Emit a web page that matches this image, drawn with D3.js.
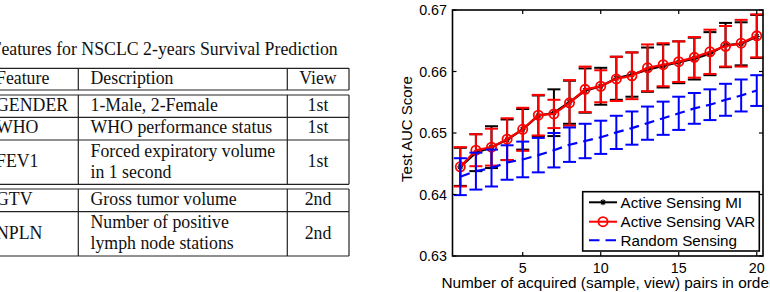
<!DOCTYPE html>
<html><head><meta charset="utf-8">
<script src="https://cdn.jsdelivr.net/npm/d3@7"></script>
<style>html,body{margin:0;padding:0;background:#fff;overflow:hidden}</style>
</head><body>
<svg id="c" width="770" height="292"></svg>
<script>
// ---- Table data ----
const tableTitle = "Features for NSCLC 2-years Survival Prediction";
const tableHeader = ["Feature", "Description", "View"];
const features = ["GENDER", "WHO", "FEV1", "GTV", "NPLN"];
const descriptions = [["1-Male, 2-Female"], ["WHO performance status"], ["Forced expiratory volume", "in 1 second"], ["Gross tumor volume"], ["Number of positive", "lymph node stations"]];
const views = ["1st", "1st", "1st", "2nd", "2nd"];

// ---- Chart data ----
const steps = d3.range(1, 21);
const miMean = [0.6445,0.6468,0.6477,0.6489,0.6506,0.6528,0.6533,0.6550,0.6569,0.6576,0.6589,0.6595,0.6603,0.6609,0.6615,0.6621,0.6629,0.6643,0.6645,0.6657];
const miErr  = [0.0031,0.0030,0.0034,0.0033,0.0033,0.0033,0.0038,0.0035,0.0036,0.0030,0.0035,0.0036,0.0036,0.0035,0.0034,0.0034,0.0035,0.0036,0.0035,0.0035];
const varMean = [0.6445,0.6472,0.6477,0.6490,0.6506,0.6529,0.6531,0.6549,0.6571,0.6576,0.6588,0.6593,0.6606,0.6611,0.6616,0.6623,0.6632,0.6641,0.6646,0.6658];
const varErr  = [0.0032,0.0026,0.0030,0.0034,0.0035,0.0033,0.0023,0.0037,0.0037,0.0026,0.0036,0.0038,0.0038,0.0035,0.0033,0.0033,0.0036,0.0033,0.0038,0.0035];
const rndMean = [0.6429,0.6438,0.6443,0.6452,0.6457,0.6464,0.6472,0.6481,0.6487,0.6493,0.6501,0.6508,0.6516,0.6524,0.6532,0.6540,0.6546,0.6554,0.6561,0.6569];
const rndErr  = [0.0030,0.0030,0.0030,0.0028,0.0029,0.0028,0.0028,0.0028,0.0028,0.0027,0.0027,0.0027,0.0027,0.0027,0.0027,0.0025,0.0025,0.0026,0.0026,0.0025];
const xTicks = [5, 10, 15, 20];
const yTicks = [0.63, 0.64, 0.65, 0.66, 0.67];
const seriesNames = ["Active Sensing MI", "Active Sensing VAR", "Random Sensing"];
const xLabel = "Number of acquired (sample, view) pairs in order";
const yLabel = "Test AUC Score";

const svg = d3.select("#c");

// ================= TABLE =================
const serif = "'Liberation Serif','Times New Roman',serif";
const tg = svg.append("g").attr("font-family", serif).attr("font-size", "17.8px").attr("fill", "#111");
tg.append("text").attr("x", -8.5).attr("y", 55).attr("font-size", "17.8px").text(tableTitle);

const colX = [-4, 90.5, 318];
const vLines = [78.3, 287.3, 349];
const lineCol = "#222";
const boxes = [
  {top: 68.3, rows: [{h: 21.7, header: true}]},
  {top: 95, rows: [{h: 22.3, i: 0}, {h: 22.7, i: 1}, {h: 44.3, i: 2}]},
  {top: 189, rows: [{h: 22.7, i: 3}, {h: 44.3, i: 4}]}
];
boxes.forEach(b => {
  let y = b.top;
  tg.append("line").attr("x1", 0).attr("x2", vLines[2]).attr("y1", y).attr("y2", y).attr("stroke", lineCol).attr("stroke-width", 1.2);
  b.rows.forEach(r => {
    const y0 = y, y1 = y + r.h, cy = (y0 + y1) / 2;
    tg.append("line").attr("x1", 0).attr("x2", vLines[2]).attr("y1", y1).attr("y2", y1).attr("stroke", lineCol).attr("stroke-width", 1.2);
    vLines.forEach(vx => tg.append("line").attr("x1", vx).attr("x2", vx).attr("y1", y0).attr("y2", y1).attr("stroke", lineCol).attr("stroke-width", 1.2));
    if (r.header) {
      tg.append("text").attr("x", colX[0]).attr("y", cy + 4.8).text(tableHeader[0]);
      tg.append("text").attr("x", colX[1]).attr("y", cy + 4.8).text(tableHeader[1]);
      tg.append("text").attr("x", colX[2]).attr("y", cy + 4.8).attr("text-anchor", "middle").text(tableHeader[2]);
    } else {
      tg.append("text").attr("x", colX[0]).attr("y", cy + 4.8).text(features[r.i]);
      const lines = descriptions[r.i];
      lines.forEach((t, k) => {
        const by = lines.length === 1 ? cy + 4.8 : y0 + 16.7 + k * 21;
        tg.append("text").attr("x", colX[1]).attr("y", by).text(t);
      });
      tg.append("text").attr("x", colX[2]).attr("y", cy + 4.8).attr("text-anchor", "middle").text(views[r.i]);
    }
    y = y1;
  });
});

// ================= CHART =================
const sans = "'Liberation Sans',Arial,Helvetica,sans-serif";
const L = 452.5, R = 763, T = 10, B = 256;
const x = d3.scaleLinear().domain([0.5, 20.4]).range([L, R]);
const y = d3.scaleLinear().domain([0.63, 0.67]).range([B, T]);
const cg = svg.append("g").attr("font-family", sans);

const capHW = 6.5;
function drawSeries(means, errs, color, dashed) {
  const g = cg.append("g");
  const pts = steps.map((s, i) => ({s, m: means[i], e: errs[i]}));
  pts.forEach(p => {
    const px = x(p.s), yt = y(p.m + p.e), yb = y(p.m - p.e);
    g.append("line").attr("x1", px).attr("x2", px).attr("y1", yt).attr("y2", yb).attr("stroke", color).attr("stroke-width", 2);
    g.append("line").attr("x1", px - capHW).attr("x2", px + capHW).attr("y1", yt).attr("y2", yt).attr("stroke", color).attr("stroke-width", 2);
    g.append("line").attr("x1", px - capHW).attr("x2", px + capHW).attr("y1", yb).attr("y2", yb).attr("stroke", color).attr("stroke-width", 2);
  });
  const line = d3.line().x(p => x(p.s)).y(p => y(p.m));
  g.append("path").attr("d", line(pts)).attr("fill", "none").attr("stroke", color).attr("stroke-width", 2.2)
    .attr("stroke-dasharray", dashed ? "10,6" : null);
  return {g, pts};
}
function asterisk(g, cx, cy, r, color) {
  const d = `M${cx - r},${cy}L${cx + r},${cy}M${cx},${cy - r}L${cx},${cy + r}` +
    `M${cx - r * 0.7},${cy - r * 0.7}L${cx + r * 0.7},${cy + r * 0.7}M${cx - r * 0.7},${cy + r * 0.7}L${cx + r * 0.7},${cy - r * 0.7}`;
  g.append("path").attr("d", d).attr("stroke", color).attr("stroke-width", 1.1).attr("fill", "none");
}

const mi = drawSeries(miMean, miErr, "#000", false);
mi.pts.forEach(p => asterisk(mi.g, x(p.s), y(p.m), 3, "#000"));
const va = drawSeries(varMean, varErr, "#f00", false);
va.pts.forEach(p => va.g.append("circle").attr("cx", x(p.s)).attr("cy", y(p.m)).attr("r", 4.6).attr("fill", "none").attr("stroke", "#f00").attr("stroke-width", 1.8));
drawSeries(rndMean, rndErr, "#00f", true);

// frame
cg.append("rect").attr("x", L).attr("y", T).attr("width", R - L).attr("height", B - T).attr("fill", "none").attr("stroke", "#000").attr("stroke-width", 1.6);
xTicks.forEach(t => {
  cg.append("line").attr("x1", x(t)).attr("x2", x(t)).attr("y1", B).attr("y2", B - 4).attr("stroke", "#000").attr("stroke-width", 1.2);
  cg.append("line").attr("x1", x(t)).attr("x2", x(t)).attr("y1", T).attr("y2", T + 4).attr("stroke", "#000").attr("stroke-width", 1.2);
  cg.append("text").attr("x", x(t)).attr("y", 272.8).attr("text-anchor", "middle").attr("font-size", "14.3px").text(t);
});
yTicks.forEach(t => {
  cg.append("line").attr("x1", L).attr("x2", L + 4).attr("y1", y(t)).attr("y2", y(t)).attr("stroke", "#000").attr("stroke-width", 1.2);
  cg.append("line").attr("x1", R).attr("x2", R - 4).attr("y1", y(t)).attr("y2", y(t)).attr("stroke", "#000").attr("stroke-width", 1.2);
  cg.append("text").attr("x", L - 5.5).attr("y", y(t) + 5.2).attr("text-anchor", "end").attr("font-size", "14.3px").text(d3.format(".2f")(t));
});
cg.append("text").attr("x", (L + R) / 2).attr("y", 288.3).attr("text-anchor", "middle").attr("font-size", "15.4px").text(xLabel);
cg.append("text").attr("transform", `translate(411.5,129) rotate(-90)`).attr("text-anchor", "middle").attr("font-size", "15px").text(yLabel);

// legend
const lg = cg.append("g");
lg.append("rect").attr("x", 582.7).attr("y", 191.7).attr("width", 176.6).attr("height", 59.3).attr("fill", "#fff").attr("stroke", "#000").attr("stroke-width", 1.6);
const legY = [202.3, 221.7, 240.3];
const legCol = ["#000", "#f00", "#00f"];
seriesNames.forEach((n, i) => {
  lg.append("line").attr("x1", 589).attr("x2", 617).attr("y1", legY[i]).attr("y2", legY[i]).attr("stroke", legCol[i]).attr("stroke-width", 2)
    .attr("stroke-dasharray", i === 2 ? "10.5,6" : null);
  if (i === 0) asterisk(lg, 603, legY[i], 3, "#000");
  if (i === 1) lg.append("circle").attr("cx", 603).attr("cy", legY[i]).attr("r", 4.6).attr("fill", "none").attr("stroke", "#f00").attr("stroke-width", 1.8);
  lg.append("text").attr("x", 620.5).attr("y", legY[i] + 5.5).attr("font-size", "15.2px").text(n);
});
</script>
</body></html>
